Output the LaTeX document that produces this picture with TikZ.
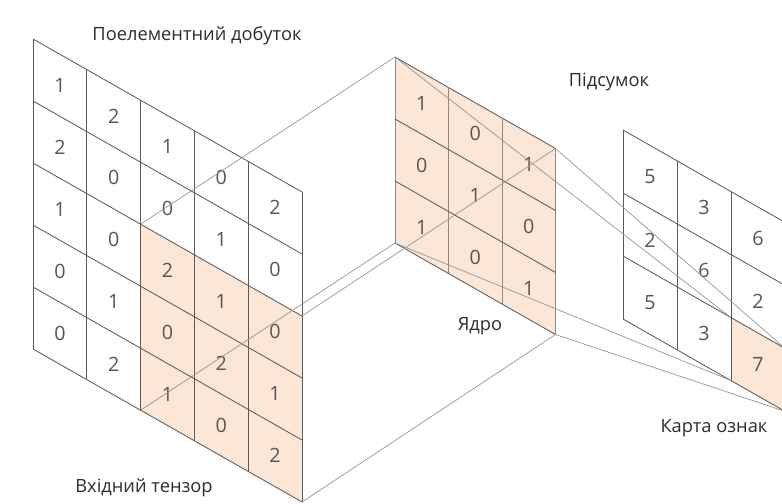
\documentclass[tikz,border=0pt]{standalone}
\usepackage{fontspec}
\setmainfont{Open Sans}
\usetikzlibrary{positioning}
\usepackage{xcolor}

\definecolor{peach}{RGB}{252,230,214}
\definecolor{gridgray}{RGB}{90,90,90}
\definecolor{kerngray}{RGB}{150,135,125}
\definecolor{projgray}{RGB}{150,150,150}
\definecolor{numgray}{RGB}{85,85,85}
\definecolor{labelgray}{RGB}{45,45,45}

\tikzset{
    gridline/.style={draw=gridgray, line width=0.6pt},
    kernline/.style={draw=kerngray, line width=0.6pt},
    projline/.style={draw=projgray, line width=0.5pt},
    cellnum/.style={text=numgray, font=\fontsize{14}{14}\selectfont, inner sep=0pt},
    caption/.style={text=labelgray, font=\fontsize{13}{15}\selectfont, inner sep=0pt}
}

\begin{document}
\begin{tikzpicture}[x=0.025cm, y=-0.025cm]
\useasboundingbox (0,0) rectangle (782,504);

    % input tensor 5x5
    \begin{scope}[shift={(33,39)}, x={(53.8,30.6)}, y={(0,62)}]
        \fill[peach] (2,2) -- (5,2) -- (5,5) -- (2,5) -- cycle;
        \foreach \i in {0,...,5}
        {
            \draw[gridline] (\i,0) -- (\i,5);
            \draw[gridline] (0,\i) -- (5,\i);
        }
        \foreach \column [count=\c from 0] in {{1,2,1,0,0},{2,0,0,1,2},{1,0,2,0,1},{0,1,1,2,0},{2,0,0,1,2}}
            \foreach \v [count=\r from 0] in \column
                \node (in_\c_\r) [cellnum] at (\c+0.5,\r+0.5) {\v};
        \coordinate (in_tl) at (2,2);
        \coordinate (in_tr) at (5,2);
        \coordinate (in_bl) at (2,5);
        \coordinate (in_br) at (5,5);
    \end{scope}

    % kernel 3x3
    \begin{scope}[shift={(395,57)}, x={(53.5,30.5)}, y={(0,62)}]
        \fill[peach] (0,0) -- (3,0) -- (3,3) -- (0,3) -- cycle;
        \foreach \i in {0,...,3}
        {
            \draw[kernline] (\i,0) -- (\i,3);
            \draw[gridline] (0,\i) -- (3,\i);
        }
        \foreach \column [count=\c from 0] in {{1,0,1},{0,1,0},{1,0,1}}
            \foreach \v [count=\r from 0] in \column
                \node (kern_\c_\r) [cellnum] at (\c+0.5,\r+0.5) {\v};
        \coordinate (kern_tl) at (0,0);
        \coordinate (kern_tr) at (3,0);
        \coordinate (kern_bl) at (0,3);
        \coordinate (kern_br) at (3,3);
    \end{scope}

    % feature map 3x3
    \begin{scope}[shift={(623,130)}, x={(54,30.8)}, y={(0,63)}]
        \fill[peach] (2,2) -- (3,2) -- (3,3) -- (2,3) -- cycle;
        \foreach \i in {0,...,3}
        {
            \draw[gridline] (\i,0) -- (\i,3);
            \draw[gridline] (0,\i) -- (3,\i);
        }
        \foreach \column [count=\c from 0] in {{5,2,5},{3,6,3},{6,2,7}}
            \foreach \v [count=\r from 0] in \column
                \node (out_\c_\r) [cellnum] at (\c+0.5,\r+0.5) {\v};
        \coordinate (out_tl) at (2,2);
        \coordinate (out_tr) at (3,2);
        \coordinate (out_bl) at (2,3);
        \coordinate (out_br) at (3,3);
    \end{scope}

    % input window -> kernel
    \draw[projline] (in_tl) -- (kern_tl);
    \draw[projline] (in_tr) -- (kern_tr);
    \draw[projline] (in_bl) -- (kern_bl);
    \draw[projline] (in_br) -- (kern_br);

    % kernel -> one cell of the map
    \draw[projline] (kern_tl) -- (out_tl);
    \draw[projline] (kern_tr) -- (out_tr);
    \draw[projline] (kern_bl) -- (out_bl);
    \draw[projline] (kern_br) -- (out_br);

    \node (product_label) [caption] at (197,36) {Поелементний добуток};
    \node (input_label) [caption] at (144,488) {Вхідний тензор};
    \node (kernel_label) [caption] at (480,326) {Ядро};
    \node (sum_label) [caption] at (609,82) {Підсумок};
    \node (map_label) [caption] at (714,428) {Карта ознак};

\end{tikzpicture}
\end{document}
